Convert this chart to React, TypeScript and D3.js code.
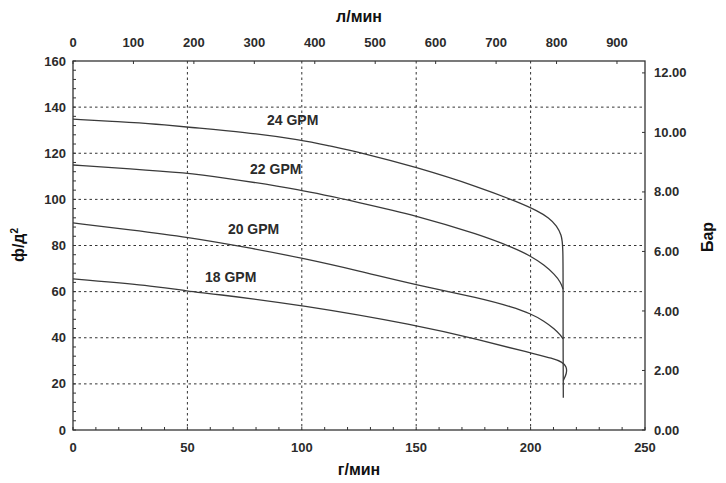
import React from "react";
import * as d3 from "d3";

const W = 726;
const H = 483;

// Bottom axis: gallons per minute (г/мин)
const gpmTicks = [0, 50, 100, 150, 200, 250];
const gpmMinor = d3.range(0, 251, 10);
// Top axis: litres per minute (л/мин)
const lpmTicks = [0, 100, 200, 300, 400, 500, 600, 700, 800, 900];
// Left axis: psi (ф/д²)
const psiTicks = [0, 20, 40, 60, 80, 100, 120, 140, 160];
const psiMinor = d3.range(0, 161, 4);
const psiGrid = [20, 40, 60, 80, 100, 120, 140];
// Right axis: bar
const barTicks = [0, 2, 4, 6, 8, 10, 12];

// Curves: [gpm, psi]
const curve24: [number, number][] = [
  [0, 134.8], [20, 133.7], [37, 132.6], [50, 131.3], [75, 129.2], [100, 125.8],
  [112, 123.2], [125, 120.5], [150, 114], [178, 105.2], [195, 98.6], [203, 95],
  [208, 92], [211.5, 88.5], [213.5, 84.5], [214.2, 80], [214.2, 60],
  [214.2, 35], [214.3, 14], [214.3, 14],
];
const curve22: [number, number][] = [
  [0, 114.9], [25, 113.3], [50, 111.4], [63, 109.8], [100, 104.2], [125, 98.6],
  [150, 93], [178, 84.6], [192, 79.2], [200, 75.5], [206, 71.5],
  [210.5, 67.5], [213.2, 64], [214.2, 61], [214.2, 61],
];
const curve20: [number, number][] = [
  [0, 89.8], [25, 86.8], [50, 83.7], [77, 79], [100, 74.6], [125, 69],
  [150, 62.9], [178, 57.2], [192, 53.3], [200, 50.5], [206, 47.2],
  [210.5, 43.8], [213.2, 41], [214.2, 39.5], [214.2, 39.5],
];
const curve18: [number, number][] = [
  [0, 65.5], [38, 62.2], [50, 60.2], [60, 59.2], [100, 54.2], [150, 45.5],
  [178, 39], [200, 33.4], [210, 31], [213.7, 29.5], [215.8, 27.5],
  [215.8, 24.5], [214.3, 21.5], [214.3, 21.5],
];
const curves = [curve24, curve22, curve20, curve18];

const curveLabels = ["24 GPM", "22 GPM", "20 GPM", "18 GPM"];
const labelAt: [number, number][] = [
  [84.8, 132.4],
  [77.4, 111.2],
  [67.7, 85],
  [57.7, 64.2],
];

const LPM_PER_GPM = 3.785411784;

export default function App() {
  const left = 73, right = 645, top = 61, bottom = 430;
  const x = d3.scaleLinear().domain([0, 250]).range([left, right]);
  const xL = d3.scaleLinear().domain([0, 250 * LPM_PER_GPM]).range([left, right]);
  const y = d3.scaleLinear().domain([0, 160]).range([bottom, top]);
  const yB = d3.scaleLinear().domain([0, 12.4]).range([bottom, top]);

  const line = d3
    .line<[number, number]>()
    .x((d) => x(d[0]))
    .y((d) => y(d[1]))
    .curve(d3.curveBasis);

  const axisColor = "#333";
  const textColor = "#2b2b2b";
  const font = "'Liberation Sans', Arial, Helvetica, sans-serif";

  return (
    <svg
      width={W}
      height={H}
      style={{ position: "absolute", left: 0, top: 0, background: "#fff" }}
      fontFamily={font}
    >
      <rect width={W} height={H} fill="#fff" />
      {/* grid */}
      {psiGrid.map((v) => (
        <line
          key={"hg" + v}
          x1={left}
          x2={right}
          y1={y(v)}
          y2={y(v)}
          stroke="#333"
          strokeWidth={1}
          strokeDasharray="2.5,3"
        />
      ))}
      {gpmTicks
        .filter((v) => v > 0 && v < 250)
        .map((v) => (
          <line
            key={"vg" + v}
            x1={x(v)}
            x2={x(v)}
            y1={top}
            y2={bottom}
            stroke="#333"
            strokeWidth={1}
            strokeDasharray="2.5,3"
          />
        ))}
      {/* frame */}
      <rect
        x={left}
        y={top}
        width={right - left}
        height={bottom - top}
        fill="none"
        stroke={axisColor}
        strokeWidth={1.3}
      />
      {/* minor ticks */}
      {psiMinor.map((v) => (
        <line key={"lt" + v} x1={left} x2={left + 3} y1={y(v)} y2={y(v)} stroke={axisColor} strokeWidth={1} />
      ))}
      {gpmMinor.map((v) => (
        <line key={"bt" + v} x1={x(v)} x2={x(v)} y1={bottom} y2={bottom - 3} stroke={axisColor} strokeWidth={1} />
      ))}
      {lpmTicks.map((v) => (
        <line key={"tt" + v} x1={xL(v)} x2={xL(v)} y1={top} y2={top + 3} stroke={axisColor} strokeWidth={1} />
      ))}
      {barTicks.map((v) => (
        <line key={"rt" + v} x1={right} x2={right - 3} y1={yB(v)} y2={yB(v)} stroke={axisColor} strokeWidth={1} />
      ))}
      {/* curves */}
      {curves.map((c, i) => (
        <path key={"c" + i} d={line(c) || ""} fill="none" stroke="#3a3a3a" strokeWidth={1.3} />
      ))}
      {/* curve labels */}
      {curveLabels.map((t, i) => (
        <text
          key={"cl" + i}
          x={x(labelAt[i][0])}
          y={y(labelAt[i][1])}
          fontSize={14}
          fontWeight="bold"
          fill={textColor}
        >
          {t}
        </text>
      ))}
      {/* tick labels */}
      {psiTicks.map((v) => (
        <text key={"ll" + v} x={left - 7} y={y(v)} dy="0.35em" textAnchor="end" fontSize={13} fontWeight="bold" fill={textColor}>
          {v}
        </text>
      ))}
      {gpmTicks.map((v) => (
        <text key={"bl" + v} x={x(v)} y={bottom + 17} dy="0.35em" textAnchor="middle" fontSize={13} fontWeight="bold" fill={textColor}>
          {v}
        </text>
      ))}
      {lpmTicks.map((v) => (
        <text key={"tl" + v} x={xL(v)} y={top - 19} dy="0.35em" textAnchor="middle" fontSize={13} fontWeight="bold" fill={textColor}>
          {v}
        </text>
      ))}
      {barTicks.map((v) => (
        <text key={"rl" + v} x={right + 9} y={yB(v)} dy="0.35em" textAnchor="start" fontSize={13} fontWeight="bold" fill={textColor}>
          {d3.format(".2f")(v)}
        </text>
      ))}
      {/* axis titles */}
      <text x={(left + right) / 2} y={16} dy="0.35em" textAnchor="middle" fontSize={16} fontWeight="bold" fill="#111">
        л/мин
      </text>
      <text x={(left + right) / 2} y={469} dy="0.35em" textAnchor="middle" fontSize={16} fontWeight="bold" fill="#111">
        г/мин
      </text>
      <text
        transform={`translate(24, 245) rotate(-90)`}
        textAnchor="middle"
        fontSize={16}
        fontWeight="bold"
        fill="#111"
      >
        ф/д
        <tspan fontSize={10} dy="-6">2</tspan>
      </text>
      <text
        transform={`translate(713, 237) rotate(-90)`}
        textAnchor="middle"
        fontSize={16}
        fontWeight="bold"
        fill="#111"
      >
        Бар
      </text>
    </svg>
  );
}
